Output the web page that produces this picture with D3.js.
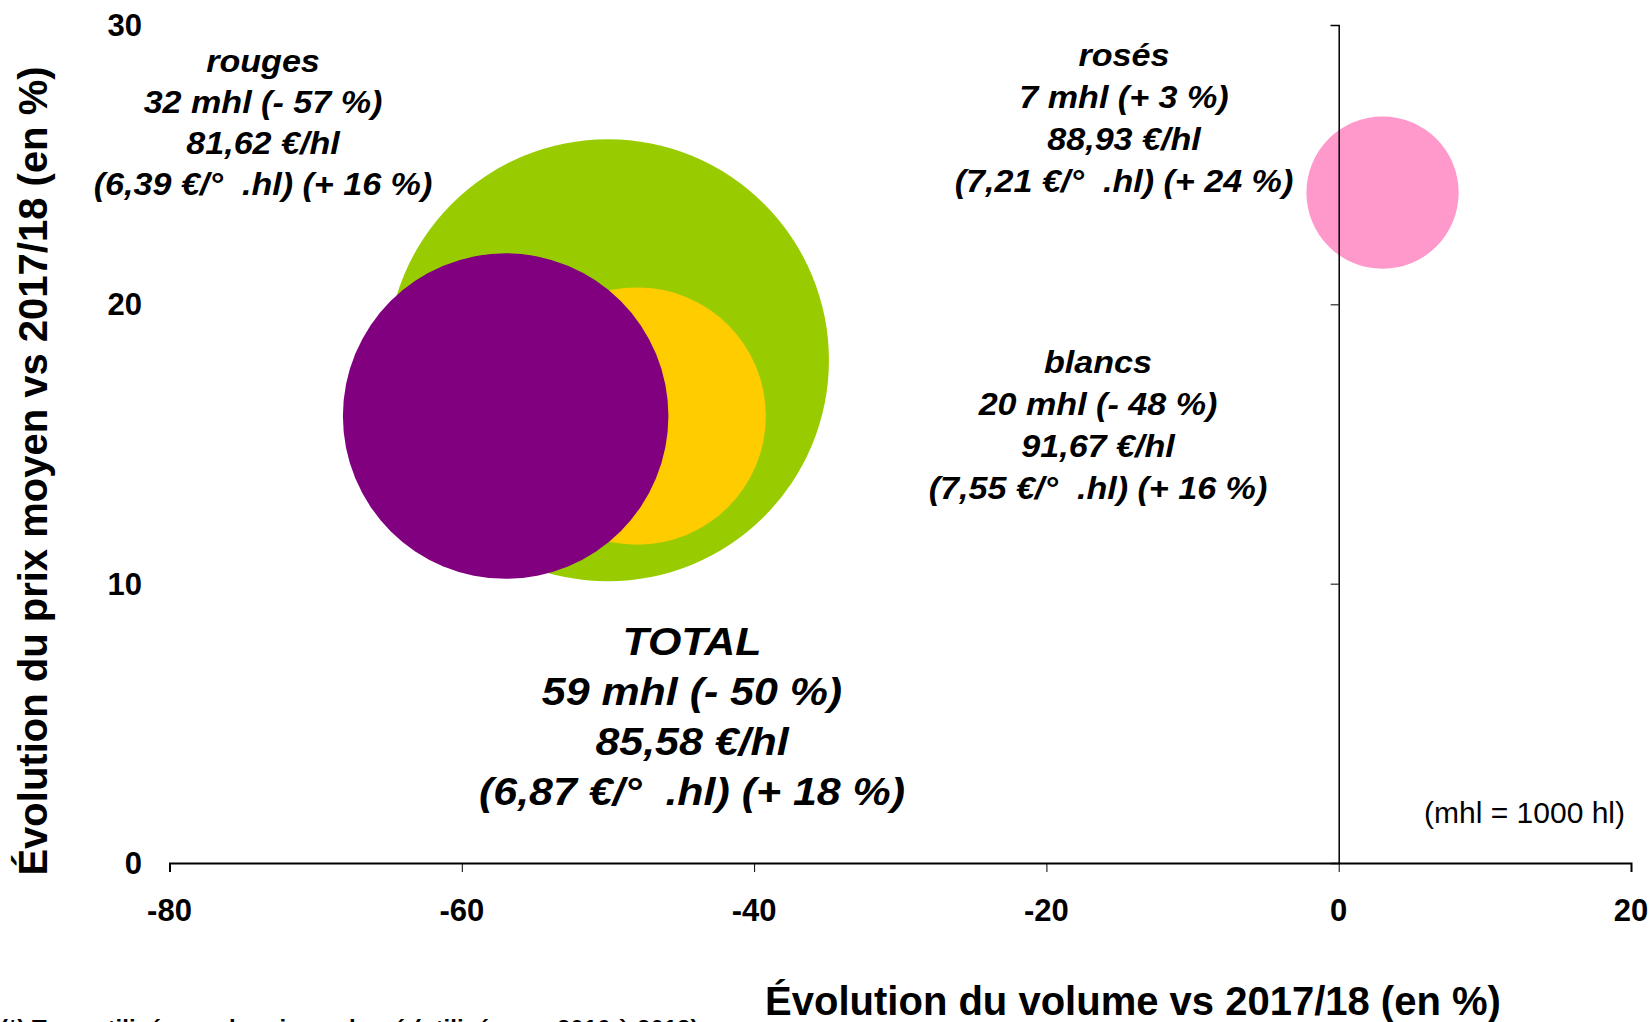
<!DOCTYPE html>
<html>
<head>
<meta charset="utf-8">
<title>Bulle prix / volume</title>
<style>
  body { margin: 0; background: #fff; }
  svg text { font-family: "Liberation Sans", Arial, sans-serif; fill: #000; white-space: pre; }
  .axis path, .axis line { stroke: #000; }
</style>
<script src="https://d3js.org/d3.v7.min.js"></script>
</head>
<body>
<script>
// ---------- data ----------
var series = ["TOTAL", "blancs", "rouges", "rosés"];
var volumeChange = [-50, -48, -57, 3];      // % vs 2017/18 (x)
var priceChange = [18, 16, 16, 24];         // % vs 2017/18 (y)
var volumeMhl = [59, 20, 32, 7];            // bubble size
var bubbleColors = ["#99cc00", "#ffcc00", "#800080", "#ff99cc"];
var labelLines = [
  ["TOTAL", "59 mhl (- 50 %)", "85,58 €/hl", "(6,87 €/°  .hl) (+ 18 %)"],
  ["blancs", "20 mhl (- 48 %)", "91,67 €/hl", "(7,55 €/°  .hl) (+ 16 %)"],
  ["rouges", "32 mhl (- 57 %)", "81,62 €/hl", "(6,39 €/°  .hl) (+ 16 %)"],
  ["rosés", "7 mhl (+ 3 %)", "88,93 €/hl", "(7,21 €/°  .hl) (+ 24 %)"]
];
var xTicks = [-80, -60, -40, -20, 0, 20];
var yTicks = [0, 10, 20, 30];

// ---------- layout ----------
var width = 1651, height = 1022;
var svg = d3.select("body").append("svg")
  .attr("width", width).attr("height", height);

var x = d3.scaleLinear().domain([-80, 20]).range([169.5, 1631]);
var y = d3.scaleLinear().domain([0, 30]).range([863, 25]);
var r = d3.scaleSqrt().domain([0, 59]).range([0, 221]);

// bubbles
svg.append("g").selectAll("circle")
  .data(series)
  .enter().append("circle")
  .attr("cx", function(d, i) { return x(volumeChange[i]); })
  .attr("cy", function(d, i) { return y(priceChange[i]); })
  .attr("r", function(d, i) { return r(volumeMhl[i]); })
  .attr("fill", function(d, i) { return bubbleColors[i]; });

// axes
var xAxis = d3.axisBottom(x).tickValues(xTicks).tickSize(9).tickFormat("");
svg.append("g").attr("class", "axis")
  .attr("transform", "translate(0," + y(0) + ")")
  .call(xAxis)
  .select(".domain").attr("stroke-width", 2);

var yAxis = d3.axisLeft(y).tickValues(yTicks.slice(1)).tickSize(8).tickFormat("");
svg.append("g").attr("class", "axis")
  .attr("transform", "translate(" + x(0) + ",0)")
  .call(yAxis)
  .select(".domain").attr("stroke-width", 1.5);

// tick labels
svg.append("g").selectAll("text")
  .data(xTicks)
  .enter().append("text")
  .attr("x", function(d) { return x(d); })
  .attr("y", y(0) + 58)
  .attr("text-anchor", "middle")
  .attr("font-size", "31px").attr("font-weight", "bold")
  .text(function(d) { return d; });

svg.append("g").selectAll("text")
  .data(yTicks)
  .enter().append("text")
  .attr("x", 142)
  .attr("y", function(d) { return y(d) + 11; })
  .attr("text-anchor", "end")
  .attr("font-size", "31px").attr("font-weight", "bold")
  .text(function(d) { return d; });

// axis titles
svg.append("text")
  .attr("x", 1133).attr("y", 1015)
  .attr("text-anchor", "middle")
  .attr("font-size", "40px").attr("font-weight", "bold")
  .text("Évolution du volume vs 2017/18 (en %)");

svg.append("text")
  .attr("transform", "translate(47,471) rotate(-90)")
  .attr("text-anchor", "middle")
  .attr("font-size", "40px").attr("font-weight", "bold")
  .text("Évolution du prix moyen vs 2017/18 (en %)");

// bubble labels (centre x, first baseline, font size, line step)
var labelPos = [
  [692, 655, 39, 50],
  [1098, 373, 31, 42],
  [263, 72, 31, 41],
  [1124, 66, 31, 42]
];
labelLines.forEach(function(lines, i) {
  var p = labelPos[i];
  var g = svg.append("g")
    .attr("transform", "translate(" + p[0] + ",0) scale(1.1,1)");
  g.selectAll("text")
    .data(lines)
    .enter().append("text")
    .attr("x", 0)
    .attr("y", function(d, j) { return p[1] + j * p[3]; })
    .attr("text-anchor", "middle")
    .attr("font-size", p[2] + "px")
    .attr("font-weight", "bold").attr("font-style", "italic")
    .text(function(d) { return d; });
});

// unit note
svg.append("text")
  .attr("x", 1625).attr("y", 823)
  .attr("text-anchor", "end")
  .attr("font-size", "30px")
  .text("(mhl = 1000 hl)");

// footnote (cut by the bottom edge, as in the source)
svg.append("text")
  .attr("x", 0).attr("y", 1037)
  .attr("font-size", "24px").attr("font-weight", "bold")
  .text("(*) Taux utilisé pour le prix au degré (utilisé pour 2016 à 2018)");
</script>
</body>
</html>
